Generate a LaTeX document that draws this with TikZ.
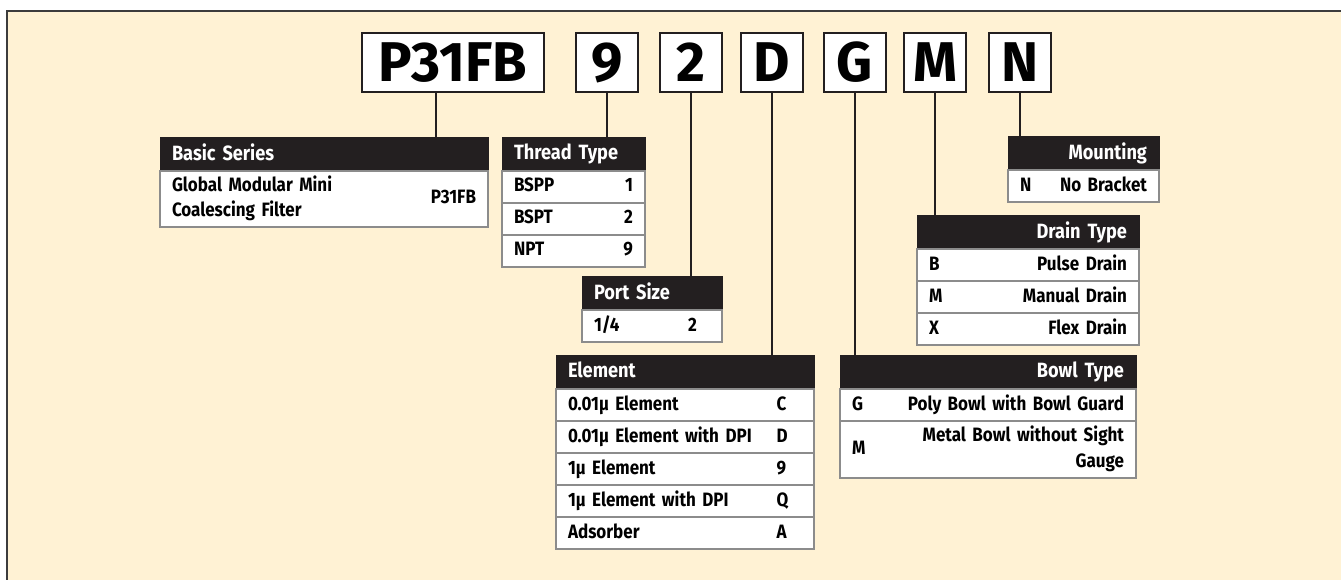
\documentclass[tikz,border=0pt]{standalone}
\usepackage{fontspec}
\setmainfont{Fira Sans}[FakeStretch=0.88]
\newfontfamily\codefont{Fira Sans}
\usepackage{xcolor}
\usetikzlibrary{positioning}
\definecolor{panelcolor}{RGB}{255,242,212}
\definecolor{hdrcolor}{RGB}{35,31,32}
\definecolor{rulecolor}{RGB}{140,140,140}
\definecolor{edgecolor}{RGB}{60,60,60}

\begin{document}
\begin{tikzpicture}[
    x=0.75pt, y=-0.75pt,
    code/.style={rectangle, draw=hdrcolor, line width=1.5pt, fill=white, minimum width=46.5pt, minimum height=44.25pt, inner sep=0pt, font={\codefont\fontsize{42}{46}\selectfont\bfseries}},
    hdr/.style={rectangle, draw=hdrcolor, fill=hdrcolor, text=white, minimum height=25.5pt, inner xsep=9pt, inner ysep=0pt, outer sep=0pt, anchor=north west, font={\fontsize{15.5}{18}\selectfont\bfseries}, execute at begin node=\vphantom{Ag}},
    row/.style={rectangle, draw=rulecolor, line width=1pt, fill=white, minimum height=24pt, inner xsep=9pt, inner ysep=0pt, outer sep=0pt, font={\fontsize{14.5}{19}\selectfont\bfseries}, execute at begin node=\vphantom{Ag}},
    link/.style={draw=hdrcolor, line width=1.5pt}
]
\useasboundingbox (0,0) rectangle (1341,580);
\fill[white] (0,0) rectangle (1341,580);
\fill[panelcolor] (7,11) rectangle (1341,580);
\draw[edgecolor, line width=1.1pt] (7,580) -- (7,11) -- (1341,11);

% part number
\node[code, minimum width=136.5pt] (p31fb) at (453,62.5) {P31FB};
\node[code, right=22.5pt of p31fb] (c9) {9};
\node[code, right=15pt of c9] (c2) {2};
\node[code, right=12.75pt of c2] (cD) {D};
\node[code, right=14.25pt of cD] (cG) {G};
\node[code, right=12pt of cG] (cM) {M};
\node[code, right=15.75pt of cM] (cN) {N};

% basic series
\node[hdr, text width=228pt] (basic) at (160,137) {Basic Series};
\node[row, text width=228pt, minimum height=42pt, below=0pt of basic] (basic1) {\begin{tabular}{@{}l@{}}Global Modular Mini\\Coalescing Filter\end{tabular}\hfill P31FB\hspace*{5pt}};

% thread type
\node[hdr, text width=89.25pt] (thread) at (502,137) {Thread Type};
\node[row, text width=89.25pt, below=0pt of thread] (thread1) {BSPP\hfill 1};
\node[row, text width=89.25pt, below=0pt of thread1] (thread2) {BSPT\hfill 2};
\node[row, text width=89.25pt, below=0pt of thread2] (thread3) {NPT\hfill 9};

% port size
\node[hdr, text width=87pt] (port) at (582,276) {Port Size};
\node[row, text width=87pt, below=0pt of port] (port1) {1/4\hfill\makebox[16.5pt][l]{2}};

% element
\node[hdr, text width=175.5pt] (element) at (556,355) {Element};
\node[row, text width=175.5pt, below=0pt of element] (element1) {0.01µ Element\hfill\makebox[19pt][l]{C}};
\node[row, text width=175.5pt, below=0pt of element1] (element2) {0.01µ Element with DPI\hfill\makebox[19pt][l]{D}};
\node[row, text width=175.5pt, below=0pt of element2] (element3) {1µ Element\hfill\makebox[19pt][l]{9}};
\node[row, text width=175.5pt, below=0pt of element3] (element4) {1µ Element with DPI\hfill\makebox[19pt][l]{Q}};
\node[row, text width=175.5pt, below=0pt of element4] (element5) {Adsorber\hfill\makebox[19pt][l]{A}};

% bowl type
\node[hdr, text width=204pt, align=right] (bowl) at (840,355) {Bowl Type};
\node[row, text width=204pt, below=0pt of bowl] (bowl1) {G\hfill Poly Bowl with Bowl Guard};
\node[row, text width=204pt, minimum height=42.75pt, below=0pt of bowl1] (bowl2) {M\hfill\begin{tabular}{@{}r@{}}Metal Bowl without Sight\\Gauge\end{tabular}};

% drain type
\node[hdr, text width=148.5pt, align=right] (drain) at (917,215) {Drain Type};
\node[row, text width=148.5pt, below=0pt of drain] (drain1) {B\hfill Pulse Drain};
\node[row, text width=148.5pt, below=0pt of drain1] (drain2) {M\hfill Manual Drain};
\node[row, text width=148.5pt, below=0pt of drain2] (drain3) {X\hfill Flex Drain};

% mounting
\node[hdr, text width=95.25pt, align=right] (mount) at (1008,136) {Mounting};
\node[row, text width=95.25pt, below=0pt of mount] (mount1) {N\hfill No Bracket};

% connectors
\coordinate (basicTap) at ([xshift=-12.75pt]p31fb.south);
\draw[link] (basicTap) -- (basicTap |- basic.north);
\draw[link] (c9.south) -- (c9.south |- thread.north);
\draw[link] (c2.south) -- (c2.south |- port.north);
\draw[link] (cD.south) -- (cD.south |- element.north);
\draw[link] (cG.south) -- (cG.south |- bowl.north);
\draw[link] (cM.south) -- (cM.south |- drain.north);
\draw[link] (cN.south) -- (cN.south |- mount.north);
\end{tikzpicture}
\end{document}
